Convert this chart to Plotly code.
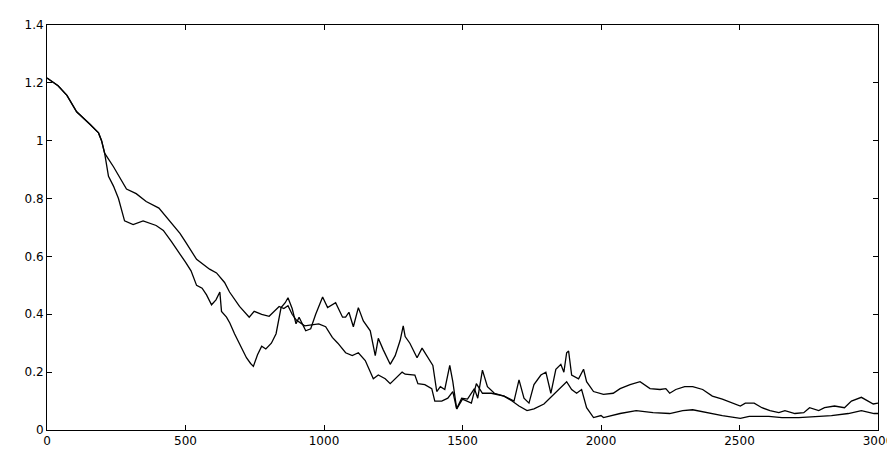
import plotly.graph_objects as go

# Series A (jagged; steep drop after x=200)
xa = [0, 40, 72, 107, 155, 186, 197, 208, 222, 240, 258, 280, 311, 347, 394, 420, 450, 480, 500, 520,
      540, 560, 576, 594, 610, 624, 630, 648, 660, 677, 700, 720, 735, 745, 760, 775, 790, 810, 827, 845,
      860, 870, 885, 899, 910, 934, 952, 970, 995, 1013, 1042, 1067, 1078, 1090, 1106, 1124, 1142, 1167,
      1185, 1196, 1214, 1239, 1257, 1275, 1286, 1293, 1310, 1336, 1354, 1372, 1393, 1407, 1420, 1436,
      1454, 1465, 1479, 1497, 1518, 1543, 1555, 1572, 1590, 1615, 1650, 1686, 1704, 1722, 1740, 1758,
      1783, 1801, 1819, 1837, 1855, 1866, 1876, 1883, 1894, 1919, 1937, 1948, 1973, 2009, 2044, 2069,
      2105, 2141, 2177, 2213, 2234, 2248, 2270, 2302, 2331, 2367, 2402, 2438, 2474, 2503, 2521, 2553,
      2581, 2610, 2642, 2664, 2700, 2732, 2753, 2786, 2807, 2843, 2879, 2904, 2940, 2965, 2983, 3000]
ya = [1.217, 1.19, 1.157, 1.10, 1.057, 1.027, 1.0, 0.957, 0.877, 0.843, 0.80, 0.723, 0.71, 0.723, 0.707,
      0.69, 0.65, 0.61, 0.58, 0.55, 0.50, 0.49, 0.467, 0.433, 0.45, 0.477, 0.41, 0.39, 0.37, 0.333,
      0.29, 0.25, 0.23, 0.22, 0.26, 0.29, 0.28, 0.30, 0.333, 0.423, 0.44, 0.457, 0.42, 0.367, 0.39,
      0.343, 0.35, 0.40, 0.46, 0.423, 0.44, 0.39, 0.39, 0.407, 0.357, 0.423, 0.377, 0.343, 0.257,
      0.317, 0.277, 0.227, 0.257, 0.31, 0.36, 0.323, 0.30, 0.25, 0.283, 0.257, 0.223, 0.133, 0.15, 0.14,
      0.223, 0.167, 0.073, 0.11, 0.107, 0.143, 0.11, 0.207, 0.15, 0.127, 0.117, 0.10, 0.173, 0.11,
      0.093, 0.157, 0.19, 0.2, 0.127, 0.21, 0.227, 0.2, 0.267, 0.273, 0.19, 0.177, 0.21, 0.167, 0.133,
      0.123, 0.127, 0.143, 0.157, 0.167, 0.143, 0.14, 0.143, 0.127, 0.14, 0.15, 0.15, 0.14, 0.117,
      0.107, 0.093, 0.083, 0.093, 0.093, 0.077, 0.067, 0.06, 0.067, 0.057, 0.06, 0.077, 0.067, 0.077,
      0.083, 0.077, 0.1, 0.113, 0.1, 0.09, 0.093]

# Series B (smoother; upper early, lower late)
xb = [0, 40, 72, 107, 155, 186, 197, 208, 240, 287, 322, 358, 404, 455, 480, 500, 520, 540, 587, 612,
      641, 659, 695, 730, 748, 775, 802, 838, 855, 870, 885, 900, 930, 960, 981, 1006, 1030, 1050,
      1078, 1102, 1124, 1149, 1178, 1196, 1221, 1239, 1257, 1282, 1293, 1328, 1339, 1364, 1389, 1400,
      1425, 1447, 1465, 1479, 1500, 1532, 1550, 1572, 1604, 1626, 1650, 1679, 1704, 1733, 1758, 1794,
      1822, 1847, 1876, 1894, 1912, 1930, 1948, 1973, 2000, 2009, 2069, 2127, 2188, 2248, 2295, 2331,
      2367, 2438, 2503, 2535, 2606, 2653, 2714, 2771, 2832, 2893, 2940, 2986, 3000]
yb = [1.217, 1.19, 1.157, 1.10, 1.057, 1.027, 1.0, 0.957, 0.91, 0.833, 0.817, 0.79, 0.767, 0.71, 0.68,
      0.65, 0.62, 0.59, 0.556, 0.543, 0.51, 0.477, 0.427, 0.39, 0.41, 0.40, 0.393, 0.427, 0.42, 0.43,
      0.40, 0.38, 0.36, 0.365, 0.367, 0.357, 0.32, 0.30, 0.267, 0.257, 0.267, 0.24, 0.177, 0.19, 0.177,
      0.16, 0.177, 0.20, 0.193, 0.19, 0.16, 0.157, 0.143, 0.10, 0.10, 0.11, 0.133, 0.073, 0.107, 0.093,
      0.16, 0.127, 0.127, 0.123, 0.117, 0.10, 0.083, 0.067, 0.073, 0.09, 0.117, 0.14, 0.167, 0.14,
      0.127, 0.14, 0.077, 0.043, 0.05, 0.043, 0.057, 0.067, 0.06, 0.057, 0.067, 0.07, 0.063, 0.05,
      0.04, 0.047, 0.047, 0.043, 0.043, 0.047, 0.05, 0.057, 0.067, 0.057, 0.057]

x_ticks = [0, 500, 1000, 1500, 2000, 2500, 3000]
y_ticks = [0, 0.2, 0.4, 0.6, 0.8, 1.0, 1.2, 1.4]

fig = go.Figure()
for xs, ys in ((xa, ya), (xb, yb)):
    fig.add_trace(go.Scatter(x=xs, y=ys, mode="lines",
                             line=dict(color="black", width=1.3), showlegend=False))

axis_common = dict(showgrid=False, zeroline=False, showline=True, linecolor="black", linewidth=1,
                   mirror="ticks", ticks="inside", ticklen=5, tickcolor="black",
                   tickfont=dict(family="DejaVu Sans, Arial, sans-serif", size=12, color="black"))
fig.update_xaxes(range=[0, 3000], tickvals=x_ticks, **axis_common)
fig.update_yaxes(range=[0, 1.4], tickvals=y_ticks, **axis_common)
fig.update_layout(width=895, height=450, margin=dict(l=39, r=18, t=10, b=20),
                  plot_bgcolor="white", paper_bgcolor="white")
fig.write_html("out.html")
